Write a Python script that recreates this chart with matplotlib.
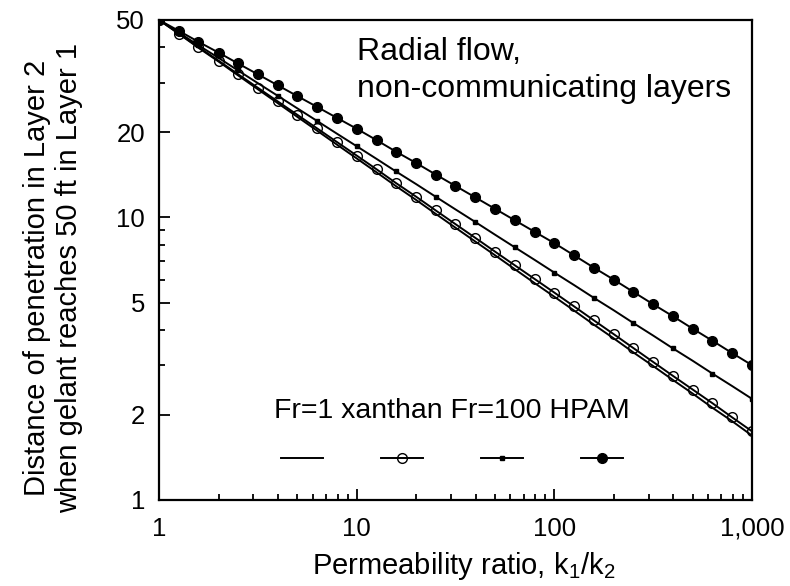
import matplotlib
matplotlib.use("Agg")
import matplotlib.pyplot as plt
from matplotlib.lines import Line2D
from matplotlib.ticker import FixedLocator, FixedFormatter, NullFormatter

# permeability ratio k1/k2 (10 points per decade)
ratio = [1, 1.26, 1.58, 2, 2.51, 3.16, 3.98, 5.01, 6.31, 7.94,
         10, 12.6, 15.8, 20, 25.1, 31.6, 39.8, 50.1, 63.1, 79.4,
         100, 126, 158, 200, 251, 316, 398, 501, 631, 794, 1000]

# distance of penetration in layer 2 (ft)
fr1 = [50, 44.67, 39.90, 35.64, 31.84, 28.44, 25.41, 22.70, 20.28, 18.11,
       16.18, 14.45, 12.91, 11.53, 10.30, 9.20, 8.22, 7.35, 6.56, 5.86,
       5.24, 4.68, 4.18, 3.73, 3.33, 2.98, 2.66, 2.38, 2.12, 1.90, 1.69]
xanthan = [50, 44.77, 40.09, 35.90, 32.14, 28.78, 25.77, 23.08, 20.66, 18.50,
           16.56, 14.81, 13.24, 11.84, 10.59, 9.47, 8.47, 7.57, 6.77, 6.06,
           5.42, 4.84, 4.33, 3.86, 3.45, 3.08, 2.75, 2.46, 2.20, 1.96, 1.75]
fr100 = [50, 45.11, 40.70, 36.72, 33.13, 29.89, 26.97, 24.33, 21.95, 19.80,
         17.87, 16.12, 14.55, 13.12, 11.84, 10.68, 9.64, 8.69, 7.84, 7.08,
         6.38, 5.76, 5.20, 4.69, 4.23, 3.82, 3.44, 3.11, 2.80, 2.53, 2.28]
hpam = [50, 45.76, 41.88, 38.33, 35.08, 32.11, 29.38, 26.89, 24.61, 22.52,
        20.61, 18.78, 17.10, 15.58, 14.19, 12.93, 11.78, 10.73, 9.77, 8.90,
        8.11, 7.34, 6.65, 6.02, 5.45, 4.93, 4.47, 4.04, 3.66, 3.31, 3.00]

xticks = [1, 10, 100, 1000]
xticklabels = ["1", "10", "100", "1,000"]
yticks = [1, 2, 5, 10, 20, 50]
yticklabels = ["1", "2", "5", "10", "20", "50"]
yminor = [3, 4, 6, 7, 8, 9, 30, 40]

plt.rcParams['font.family'] = ['Liberation Sans', 'DejaVu Sans']
plt.rcParams['mathtext.default'] = 'regular'

fig, ax = plt.subplots(figsize=(7.9, 5.86), dpi=100)
fig.subplots_adjust(left=0.2013, right=0.9519, top=0.9659, bottom=0.1468)

lw = 1.4
ax.plot(ratio, fr1, color='black', lw=lw)
ax.plot(ratio, xanthan, color='black', lw=lw, marker='o', ms=7,
        mfc='none', mec='black', mew=1.0)
ax.plot(ratio, fr100, color='black', lw=lw, marker='s', ms=3,
        markevery=2)
ax.plot(ratio, hpam, color='black', lw=lw, marker='o', ms=7)

ax.set_xscale('log')
ax.set_yscale('log')
ax.set_xlim(1, 1000)
ax.set_ylim(1, 50)

ax.xaxis.set_major_locator(FixedLocator(xticks))
ax.xaxis.set_major_formatter(FixedFormatter(xticklabels))
ax.xaxis.set_minor_formatter(NullFormatter())
ax.yaxis.set_major_locator(FixedLocator(yticks))
ax.yaxis.set_major_formatter(FixedFormatter(yticklabels))
ax.yaxis.set_minor_locator(FixedLocator(yminor))
ax.yaxis.set_minor_formatter(NullFormatter())

ax.tick_params(which='both', direction='in', top=False, right=False,
               width=1.3, labelsize=18.5)
ax.tick_params(axis='y', which='major', length=8, pad=10)
ax.tick_params(axis='x', which='major', length=8, pad=12)
ax.tick_params(which='minor', length=4)
for s in ax.spines.values():
    s.set_linewidth(1.6)

ax.set_xlabel('Permeability ratio, k$_1$/k$_2$', fontsize=21)
ax.set_ylabel('Distance of penetration in Layer 2\n'
              'when gelant reaches 50 ft in Layer 1', fontsize=21)
ax.xaxis.set_label_coords(0.514, -0.105)
ax.yaxis.set_label_coords(-0.128, 0.4625)

ax.text(0.334, 0.965, 'Radial flow,\nnon-communicating layers',
        transform=ax.transAxes, fontsize=23, va='top', ha='left',
        linespacing=1.3)

handles = [
    Line2D([], [], color='black', lw=lw),
    Line2D([], [], color='black', lw=lw, marker='o', ms=7,
           mfc='none', mew=1.0),
    Line2D([], [], color='black', lw=lw, marker='s', ms=3),
    Line2D([], [], color='black', lw=lw, marker='o', ms=7),
]
leg = ax.legend(handles, ['', '', '', ''], ncol=4, frameon=False,
                title='Fr=1 xanthan Fr=100 HPAM',
                title_fontsize=20.5, fontsize=20, handlelength=1.5,
                handletextpad=0, columnspacing=2.1, labelspacing=0.86,
                loc='center', bbox_to_anchor=(0.494, 0.134))

fig.savefig('out.png', dpi=100)
